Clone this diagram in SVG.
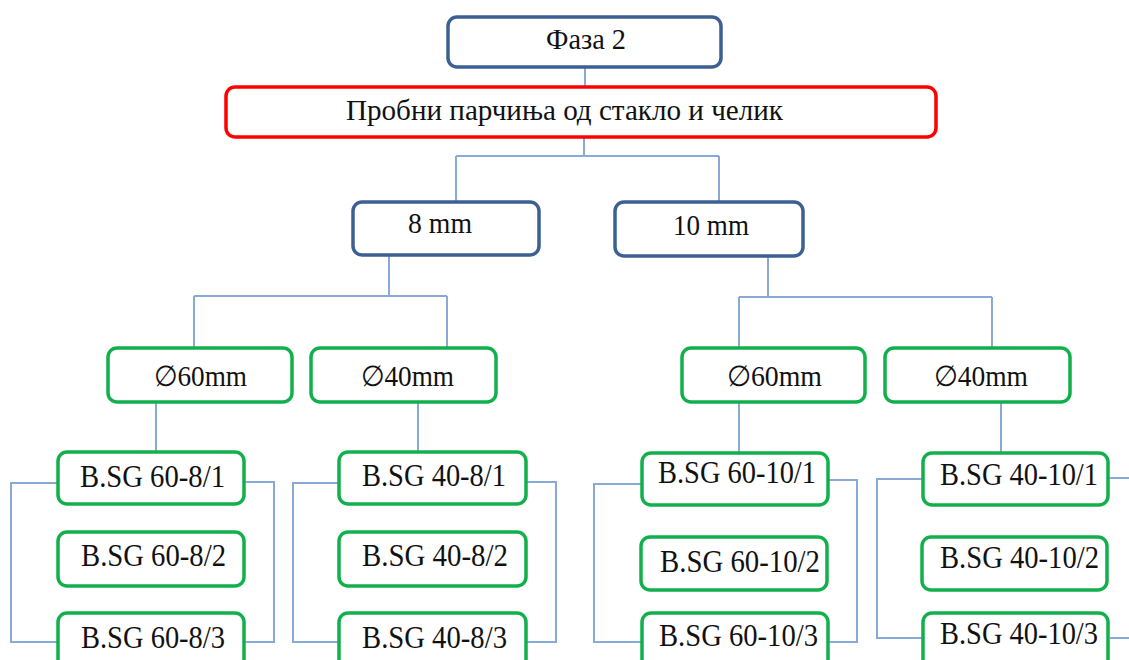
<svg xmlns="http://www.w3.org/2000/svg" width="1129" height="660" viewBox="0 0 1129 660">
<style>
  .blue{fill:#fff;stroke:#3d6092;stroke-width:3.5}
  .red{fill:#fff;stroke:#ff0000;stroke-width:3.5}
  .green{fill:#fff;stroke:#12b04c;stroke-width:3.5}
  .t{font-family:'Liberation Serif','DejaVu Serif',serif;font-size:29px;fill:#111}
  .b{font-size:31px}
  .conn path{fill:none;stroke:#8aaad6;stroke-width:2}
</style>
<rect width="1129" height="660" fill="#fff"/>
<g class="conn" id="connectors">
  <path d="M585 67V87"/>
  <path d="M584 137V156M456 156H719M456 156V202M719 156V202"/>
  <path d="M389 255V296M194 296H447M194 296V348M447 296V348"/>
  <path d="M768 256V297M739 297H992M739 297V348M992 297V348"/>
  <path d="M156 402V452M418 402V452M739 402V453M1001 402V453"/>
  <path d="M58 483H11V642H58M244 482H274V642H244"/>
  <path d="M339 483H293V642H339M526 482H556V642H526"/>
  <path d="M642 484H594V642H642M825 480H857V642H828"/>
  <path d="M923 479H877V638H923M1108 478H1129M1110 638H1129"/>
</g>
<g id="n-faza"><rect class="blue" x="448" y="17" width="273" height="50" rx="9"/><text class="t" x="546" y="49" textLength="80" lengthAdjust="spacingAndGlyphs">Фаза 2</text></g>
<g id="n-probni"><rect class="red" x="226" y="87" width="710" height="50" rx="9"/><text class="t" x="346" y="120" textLength="437" lengthAdjust="spacingAndGlyphs">Пробни парчиња од  стакло и челик</text></g>
<g id="n-8mm"><rect class="blue" x="353" y="202" width="186" height="53" rx="9"/><text class="t" x="408" y="233" textLength="64" lengthAdjust="spacingAndGlyphs">8 mm</text></g>
<g id="n-10mm"><rect class="blue" x="615" y="202" width="188" height="54" rx="9"/><text class="t" x="673" y="235" textLength="76" lengthAdjust="spacingAndGlyphs">10 mm</text></g>
<g id="n-d60-8"><rect class="green" x="108" y="348" width="184" height="54" rx="9"/><text class="t" x="154" y="386" textLength="93" lengthAdjust="spacingAndGlyphs">∅60mm</text></g>
<g id="n-d40-8"><rect class="green" x="311" y="348" width="185" height="54" rx="9"/><text class="t" x="361" y="386" textLength="93" lengthAdjust="spacingAndGlyphs">∅40mm</text></g>
<g id="n-d60-10"><rect class="green" x="682" y="348" width="183" height="54" rx="9"/><text class="t" x="727" y="386" textLength="95" lengthAdjust="spacingAndGlyphs">∅60mm</text></g>
<g id="n-d40-10"><rect class="green" x="885" y="348" width="185" height="54" rx="9"/><text class="t" x="934" y="386" textLength="94" lengthAdjust="spacingAndGlyphs">∅40mm</text></g>
<g id="n-60-8-1"><rect class="green" x="58" y="452" width="186" height="52" rx="9"/><text class="t b" x="80" y="487" textLength="145" lengthAdjust="spacingAndGlyphs">B.SG 60-8/1</text></g>
<g id="n-60-8-2"><rect class="green" x="58" y="532" width="186" height="54" rx="9"/><text class="t b" x="81" y="566" textLength="145" lengthAdjust="spacingAndGlyphs">B.SG 60-8/2</text></g>
<g id="n-60-8-3"><rect class="green" x="58" y="613" width="186" height="60" rx="9"/><text class="t b" x="81" y="648" textLength="144" lengthAdjust="spacingAndGlyphs">B.SG 60-8/3</text></g>
<g id="n-40-8-1"><rect class="green" x="339" y="452" width="187" height="52" rx="9"/><text class="t b" x="362" y="486" textLength="144" lengthAdjust="spacingAndGlyphs">B.SG 40-8/1</text></g>
<g id="n-40-8-2"><rect class="green" x="339" y="532" width="187" height="54" rx="9"/><text class="t b" x="362" y="566" textLength="146" lengthAdjust="spacingAndGlyphs">B.SG 40-8/2</text></g>
<g id="n-40-8-3"><rect class="green" x="339" y="613" width="187" height="60" rx="9"/><text class="t b" x="362" y="648" textLength="145" lengthAdjust="spacingAndGlyphs">B.SG 40-8/3</text></g>
<g id="n-60-10-1"><rect class="green" x="642" y="453" width="186" height="52" rx="9"/><text class="t b" x="658" y="483" textLength="158" lengthAdjust="spacingAndGlyphs">B.SG 60-10/1</text></g>
<g id="n-60-10-2"><rect class="green" x="641" y="537" width="186" height="53" rx="9"/><text class="t b" x="660" y="572" textLength="160" lengthAdjust="spacingAndGlyphs">B.SG 60-10/2</text></g>
<g id="n-60-10-3"><rect class="green" x="642" y="613" width="186" height="60" rx="9"/><text class="t b" x="659" y="646" textLength="159" lengthAdjust="spacingAndGlyphs">B.SG 60-10/3</text></g>
<g id="n-40-10-1"><rect class="green" x="923" y="453" width="185" height="52" rx="9"/><text class="t b" x="940" y="485" textLength="158" lengthAdjust="spacingAndGlyphs">B.SG 40-10/1</text></g>
<g id="n-40-10-2"><rect class="green" x="922" y="537" width="185" height="53" rx="9"/><text class="t b" x="940" y="568" textLength="159" lengthAdjust="spacingAndGlyphs">B.SG 40-10/2</text></g>
<g id="n-40-10-3"><rect class="green" x="923" y="613" width="185" height="60" rx="9"/><text class="t b" x="940" y="644" textLength="158" lengthAdjust="spacingAndGlyphs">B.SG 40-10/3</text></g>
</svg>
